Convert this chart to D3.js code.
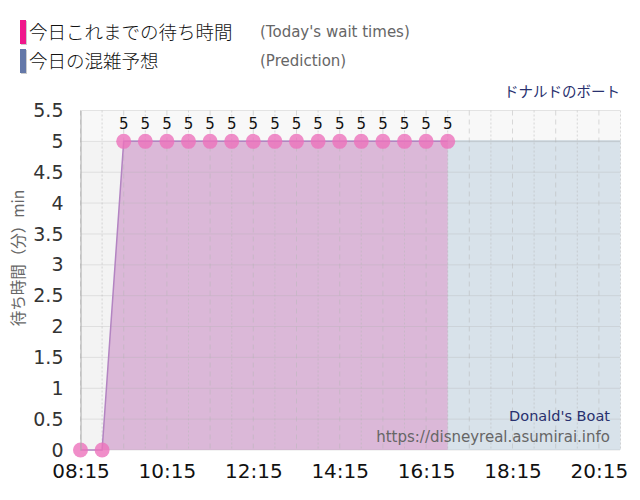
<!DOCTYPE html>
<html>
<head>
<meta charset="utf-8">
<script src="https://cdn.jsdelivr.net/npm/d3@7"></script>
<style>
  body { margin: 0; background: #fff; }
  svg { display: block; }
</style>
</head>
<body>
<svg id="chart"></svg>
<script>
// wait times so far today (every 30 min)
var waitTimes = ["08:15","08:45","09:15","09:45","10:15","10:45","11:15","11:45","12:15","12:45","13:15","13:45","14:15","14:45","15:15","15:45","16:15","16:45"];
var waitValues = [0,0,5,5,5,5,5,5,5,5,5,5,5,5,5,5,5,5];

// prediction for today
var predTimes = ["09:15","09:45","10:15","10:45","11:15","11:45","12:15","12:45","13:15","13:45","14:15","14:45","15:15","15:45","16:15","16:45","17:15","17:45","18:15","18:45","19:15","19:45","20:15","20:45"];
var predValues = [5,5,5,5,5,5,5,5,5,5,5,5,5,5,5,5,5,5,5,5,5,5,5,5];

var xTickLabels = ["08:15","10:15","12:15","14:15","16:15","18:15","20:15"];
var yTickLabels = ["0","0.5","1","1.5","2","2.5","3","3.5","4","4.5","5","5.5"];
var timeRange = ["08:15","20:45"];

function toMin(s) {
  var p = s.split(":");
  return +p[0] * 60 + +p[1];
}

var w = 640, h = 500;
var svg = d3.select("#chart").attr("width", w).attr("height", h);

var x = d3.scaleLinear()
  .domain(timeRange.map(toMin))
  .range([80.5, 620.5]);
var y = d3.scaleLinear()
  .domain([0, 5.5])
  .range([450, 110.5]);

// legend
var legend = [
  {jp: "今日これまでの待ち時間", en: "(Today's wait times)", color: "#f0188c"},
  {jp: "今日の混雑予想", en: "(Prediction)", color: "#6478a8"}
];
var lg = svg.selectAll(".lg").data(legend).enter().append("g")
  .attr("transform", function (d, i) { return "translate(0," + (i * 29) + ")"; });
lg.append("rect").attr("x", 21).attr("y", 21).attr("width", 6).attr("height", 24).attr("fill", "#ccc");
lg.append("rect").attr("x", 20).attr("y", 20).attr("width", 6).attr("height", 24).attr("fill", function (d) { return d.color; });
lg.append("text").attr("x", 29).attr("y", 39)
  .style("font-family", "'Noto Sans CJK JP', sans-serif").style("font-size", "18.5px").style("font-weight", 300)
  .attr("fill", "#111").text(function (d) { return d.jp; });
lg.append("text").attr("x", 260).attr("y", 37)
  .style("font-family", "'DejaVu Sans', sans-serif").style("font-size", "15px")
  .attr("fill", "#666").text(function (d) { return d.en; });

// plot background
svg.append("rect")
  .attr("x", x.range()[0]).attr("y", y(5.5))
  .attr("width", x.range()[1] - x.range()[0]).attr("height", y(0) - y(5.5))
  .attr("fill", "#f3f3f3");
svg.append("rect")
  .attr("x", x.range()[0]).attr("y", y(5.5))
  .attr("width", x.range()[1] - x.range()[0]).attr("height", y(5) - y(5.5))
  .attr("fill", "#f8f8f8");

// prediction area
var predData = predTimes.map(function (t, i) { return {t: toMin(t), v: predValues[i]}; });
svg.append("path").datum(predData)
  .attr("fill", "#d8e2ea")
  .attr("d", d3.area().x(function (d) { return x(d.t); }).y0(y(0)).y1(function (d) { return y(d.v); }));
svg.append("path").datum(predData)
  .attr("fill", "none").attr("stroke", "#cbd6de").attr("stroke-width", 2)
  .attr("d", d3.line().x(function (d) { return x(d.t); }).y(function (d) { return y(d.v); }));

// wait area
var waitData = waitTimes.map(function (t, i) { return {t: toMin(t), v: waitValues[i]}; });
svg.append("path").datum(waitData)
  .attr("fill", "#dbb8d8")
  .attr("d", d3.area().x(function (d) { return x(d.t); }).y0(y(0)).y1(function (d) { return y(d.v); }));

// grid
var gridTimes = d3.range(toMin(timeRange[0]), toMin(timeRange[1]) + 1, 30);
svg.append("g").selectAll("line").data(gridTimes).enter().append("line")
  .attr("x1", function (d) { return x(d); }).attr("x2", function (d) { return x(d); })
  .attr("y1", y(5.5)).attr("y2", y(0))
  .attr("stroke", "#b8b8b8").attr("stroke-opacity", 0.5)
  .attr("stroke-dasharray", function (d, i) { return i % 2 ? "2,2" : "5,4"; });
svg.append("g").selectAll("line").data(d3.range(0, 5.51, 0.5)).enter().append("line")
  .attr("x1", x.range()[0]).attr("x2", x.range()[1])
  .attr("y1", function (d) { return y(d); }).attr("y2", function (d) { return y(d); })
  .attr("stroke", "#b0b0b0").attr("stroke-opacity", 0.6).attr("stroke-dasharray", "1,1");

// wait line and points
svg.append("path").datum(waitData)
  .attr("fill", "none").attr("stroke", "#b384c2").attr("stroke-width", 1.5)
  .attr("d", d3.line().x(function (d) { return x(d.t); }).y(function (d) { return y(d.v); }));
svg.append("g").selectAll("circle").data(waitData).enter().append("circle")
  .attr("cx", function (d) { return x(d.t); }).attr("cy", function (d) { return y(d.v); })
  .attr("r", 7.5).attr("fill", "#ec72bc").attr("fill-opacity", 0.8);
svg.append("g").selectAll("text").data(waitData.filter(function (d) { return d.v > 0; })).enter().append("text")
  .attr("x", function (d) { return x(d.t); }).attr("y", function (d) { return y(d.v) - 12; })
  .attr("text-anchor", "middle")
  .style("font-family", "'DejaVu Sans', sans-serif").style("font-size", "15px")
  .attr("fill", "#111").text(function (d) { return d.v; });

// y axis
var yAxis = d3.axisLeft(y)
  .tickValues(yTickLabels.map(Number))
  .tickFormat(function (d, i) { return yTickLabels[i]; })
  .tickSize(0).tickPadding(17);
var gy = svg.append("g").attr("transform", "translate(" + x.range()[0] + ",0)").call(yAxis);
gy.select(".domain").attr("stroke", "#aaa");
gy.selectAll("text").style("font-family", "'DejaVu Sans', sans-serif").style("font-size", "19px").attr("fill", "#333");

// x axis
var xAxis = d3.axisBottom(x)
  .tickValues(xTickLabels.map(toMin))
  .tickFormat(function (d, i) { return xTickLabels[i]; })
  .tickSize(0).tickPadding(12);
var gx = svg.append("g").attr("transform", "translate(0," + (y(0) + 2) + ")").call(xAxis);
gx.select(".domain").remove();
gx.selectAll("text").style("font-family", "'DejaVu Sans', sans-serif").style("font-size", "20px").attr("fill", "#111");

// y title
svg.append("text")
  .attr("transform", "translate(24,258) rotate(-90)")
  .attr("text-anchor", "middle")
  .style("font-family", "'Noto Sans CJK JP', sans-serif").style("font-size", "15.5px")
  .attr("fill", "#666").text("待ち時間（分）min");

// titles
svg.append("text").attr("x", 620).attr("y", 97).attr("text-anchor", "end")
  .style("font-family", "'Noto Sans CJK JP', sans-serif").style("font-size", "14.5px")
  .attr("fill", "#28306e").text("ドナルドのボート");
svg.append("text").attr("x", 610).attr("y", 421).attr("text-anchor", "end")
  .style("font-family", "'DejaVu Sans', sans-serif").style("font-size", "14.5px")
  .attr("fill", "#28306e").text("Donald's Boat");
svg.append("text").attr("x", 610).attr("y", 442).attr("text-anchor", "end")
  .style("font-family", "'DejaVu Sans', sans-serif").style("font-size", "15px")
  .attr("fill", "#666").text("https://disneyreal.asumirai.info");
</script>
</body>
</html>
